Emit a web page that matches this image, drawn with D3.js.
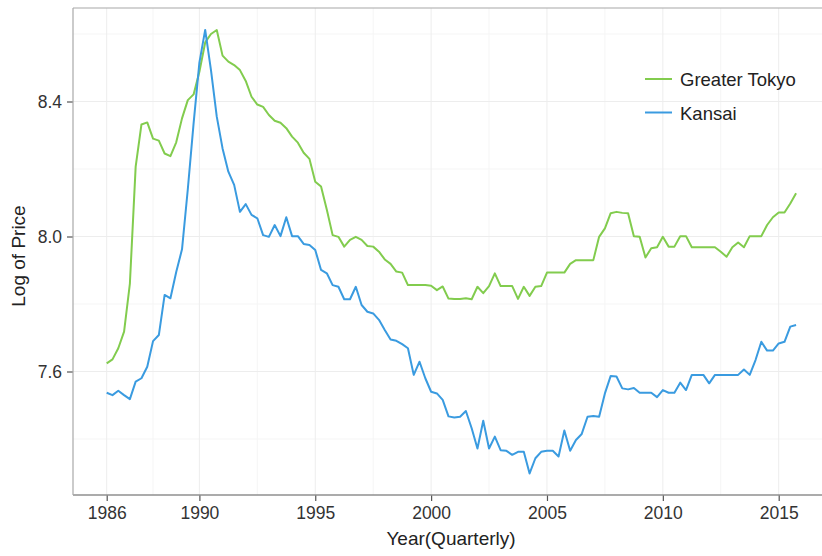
<!DOCTYPE html>
<html>
<head>
<meta charset="utf-8">
<script src="https://cdnjs.cloudflare.com/ajax/libs/d3/7.8.5/d3.min.js"></script>
<style>
  html, body { margin: 0; padding: 0; background: #fff; }
  svg { display: block; font-family: "Liberation Sans", Arial, sans-serif; }
</style>
</head>
<body>
<svg id="chart" width="822" height="556"></svg>
<script>
// ---- data (quarterly, 1986 Q1 .. 2015 Q4) ----
const startYear = 1986;
const seriesNames = ["Greater Tokyo", "Kansai"];
const seriesColors = ["#82cc4e", "#3a9be0"];
const greaterTokyo = [
  7.624,7.636,7.669,7.718,7.860,8.207,8.332,8.338,8.290,8.284,
  8.246,8.238,8.279,8.350,8.404,8.421,8.488,8.575,8.600,8.612,
  8.536,8.518,8.508,8.493,8.461,8.414,8.391,8.384,8.360,8.343,
  8.337,8.321,8.296,8.278,8.248,8.230,8.162,8.148,8.079,8.004,
  7.999,7.970,7.990,7.999,7.990,7.972,7.970,7.955,7.932,7.919,
  7.896,7.893,7.856,7.856,7.856,7.856,7.854,7.841,7.852,7.816,
  7.815,7.815,7.817,7.814,7.851,7.832,7.853,7.891,7.853,7.853,
  7.853,7.815,7.851,7.824,7.851,7.853,7.893,7.893,7.893,7.893,
  7.919,7.930,7.930,7.930,7.930,7.999,8.024,8.069,8.073,8.070,
  8.069,8.001,7.999,7.938,7.965,7.968,7.999,7.970,7.970,8.001,
  8.001,7.968,7.968,7.968,7.968,7.968,7.955,7.940,7.968,7.982,
  7.968,8.001,8.001,8.001,8.034,8.057,8.071,8.071,8.098,8.128
];
const kansai = [
  7.537,7.530,7.543,7.530,7.518,7.570,7.580,7.614,7.690,7.708,
  7.827,7.817,7.895,7.962,8.140,8.335,8.515,8.612,8.493,8.355,
  8.261,8.192,8.153,8.073,8.096,8.064,8.054,8.004,7.999,8.034,
  8.001,8.057,8.001,8.001,7.978,7.975,7.960,7.901,7.891,7.856,
  7.851,7.814,7.814,7.851,7.797,7.777,7.772,7.753,7.723,7.695,
  7.691,7.681,7.669,7.590,7.629,7.580,7.540,7.535,7.516,7.467,
  7.464,7.466,7.483,7.432,7.372,7.454,7.372,7.407,7.367,7.365,
  7.353,7.362,7.362,7.298,7.343,7.362,7.365,7.365,7.348,7.425,
  7.365,7.397,7.415,7.466,7.468,7.466,7.535,7.587,7.585,7.550,
  7.547,7.551,7.537,7.537,7.537,7.524,7.545,7.537,7.537,7.567,
  7.545,7.590,7.590,7.590,7.565,7.590,7.590,7.590,7.590,7.590,
  7.606,7.590,7.634,7.688,7.662,7.662,7.683,7.688,7.733,7.738
];
const xTicks = [1986, 1990, 1995, 2000, 2005, 2010, 2015];
const xMinor = [1988, 1992.5, 1997.5, 2002.5, 2007.5, 2012.5];
const yTicks = [7.6, 8.0, 8.4];
const yMinor = [7.4, 7.8, 8.2, 8.6];
const xTitle = "Year(Quarterly)";
const yTitle = "Log of Price";

// ---- layout ----
const panel = { left: 73, right: 822, top: 8, bottom: 495 };
const x = d3.scaleLinear().domain([1986, 2015]).range([106.7, 778.7]);
const y = d3.scaleLinear().domain([7.6, 8.4]).range([371.5, 101.5]);

const svg = d3.select("#chart");

// grid
const grid = svg.append("g");
grid.selectAll("line.xmin").data(xMinor).join("line")
  .attr("x1", d => x(d)).attr("x2", d => x(d))
  .attr("y1", panel.top).attr("y2", panel.bottom)
  .attr("stroke", "#f5f5f5").attr("stroke-width", 1);
grid.selectAll("line.ymin").data(yMinor).join("line")
  .attr("y1", d => y(d)).attr("y2", d => y(d))
  .attr("x1", panel.left).attr("x2", panel.right)
  .attr("stroke", "#f5f5f5").attr("stroke-width", 1);
grid.selectAll("line.xmaj").data(xTicks).join("line")
  .attr("x1", d => x(d)).attr("x2", d => x(d))
  .attr("y1", panel.top).attr("y2", panel.bottom)
  .attr("stroke", "#ededed").attr("stroke-width", 1);
grid.selectAll("line.ymaj").data(yTicks).join("line")
  .attr("y1", d => y(d)).attr("y2", d => y(d))
  .attr("x1", panel.left).attr("x2", panel.right)
  .attr("stroke", "#ededed").attr("stroke-width", 1);

// lines
const series = [greaterTokyo, kansai];
const line = d3.line()
  .x((d, i) => x(startYear + i / 4))
  .y(d => y(d));
series.forEach((s, k) => {
  svg.append("path")
    .datum(s)
    .attr("fill", "none")
    .attr("stroke", seriesColors[k])
    .attr("stroke-width", 2)
    .attr("stroke-linejoin", "round")
    .attr("d", line);
});

// panel border (top)
svg.append("line").attr("x1", panel.left).attr("x2", panel.right)
  .attr("y1", panel.top).attr("y2", panel.top).attr("stroke", "#a8a8a8").attr("stroke-width", 1.2);

// axes
const xAxis = d3.axisBottom(x).tickValues(xTicks).tickFormat(d3.format("d")).tickSize(6).tickPadding(6);
const gx = svg.append("g").attr("transform", `translate(0,${panel.bottom})`).call(xAxis);
gx.select(".domain").remove();
gx.append("line").attr("x1", panel.left).attr("x2", panel.right).attr("y1", 0).attr("y2", 0)
  .attr("stroke", "#8f8f8f").attr("stroke-width", 1.4);
gx.selectAll(".tick line").attr("stroke", "#555").attr("stroke-width", 1.2);
gx.selectAll(".tick text").attr("fill", "#333").style("font-size", "17.5px")
  .attr("font-family", "Liberation Sans, Arial, sans-serif");

const yAxis = d3.axisLeft(y).tickValues(yTicks).tickFormat(d3.format(".1f")).tickSize(6).tickPadding(5);
const gy = svg.append("g").attr("transform", `translate(${panel.left},0)`).call(yAxis);
gy.select(".domain").remove();
gy.append("line").attr("x1", 0).attr("x2", 0).attr("y1", panel.top).attr("y2", panel.bottom)
  .attr("stroke", "#a8a8a8").attr("stroke-width", 1.2);
gy.selectAll(".tick line").attr("stroke", "#555").attr("stroke-width", 1.2);
gy.selectAll(".tick text").attr("fill", "#333").style("font-size", "17.5px")
  .attr("font-family", "Liberation Sans, Arial, sans-serif");

// titles
svg.append("text").attr("x", 451).attr("y", 545).attr("text-anchor", "middle")
  .attr("fill", "#222").style("font-size", "19px").text(xTitle);
svg.append("text").attr("transform", "translate(25,256) rotate(-90)").attr("text-anchor", "middle")
  .attr("fill", "#222").style("font-size", "19px").text(yTitle);

// legend
const legend = svg.append("g");
seriesNames.forEach((name, k) => {
  const ly = 79 + k * 33.5;
  legend.append("line").attr("x1", 645).attr("x2", 672).attr("y1", ly).attr("y2", ly)
    .attr("stroke", seriesColors[k]).attr("stroke-width", 2);
  legend.append("text").attr("x", 680).attr("y", ly + 7).attr("fill", "#222")
    .style("font-size", "18.5px").text(name);
});
</script>
</body>
</html>
